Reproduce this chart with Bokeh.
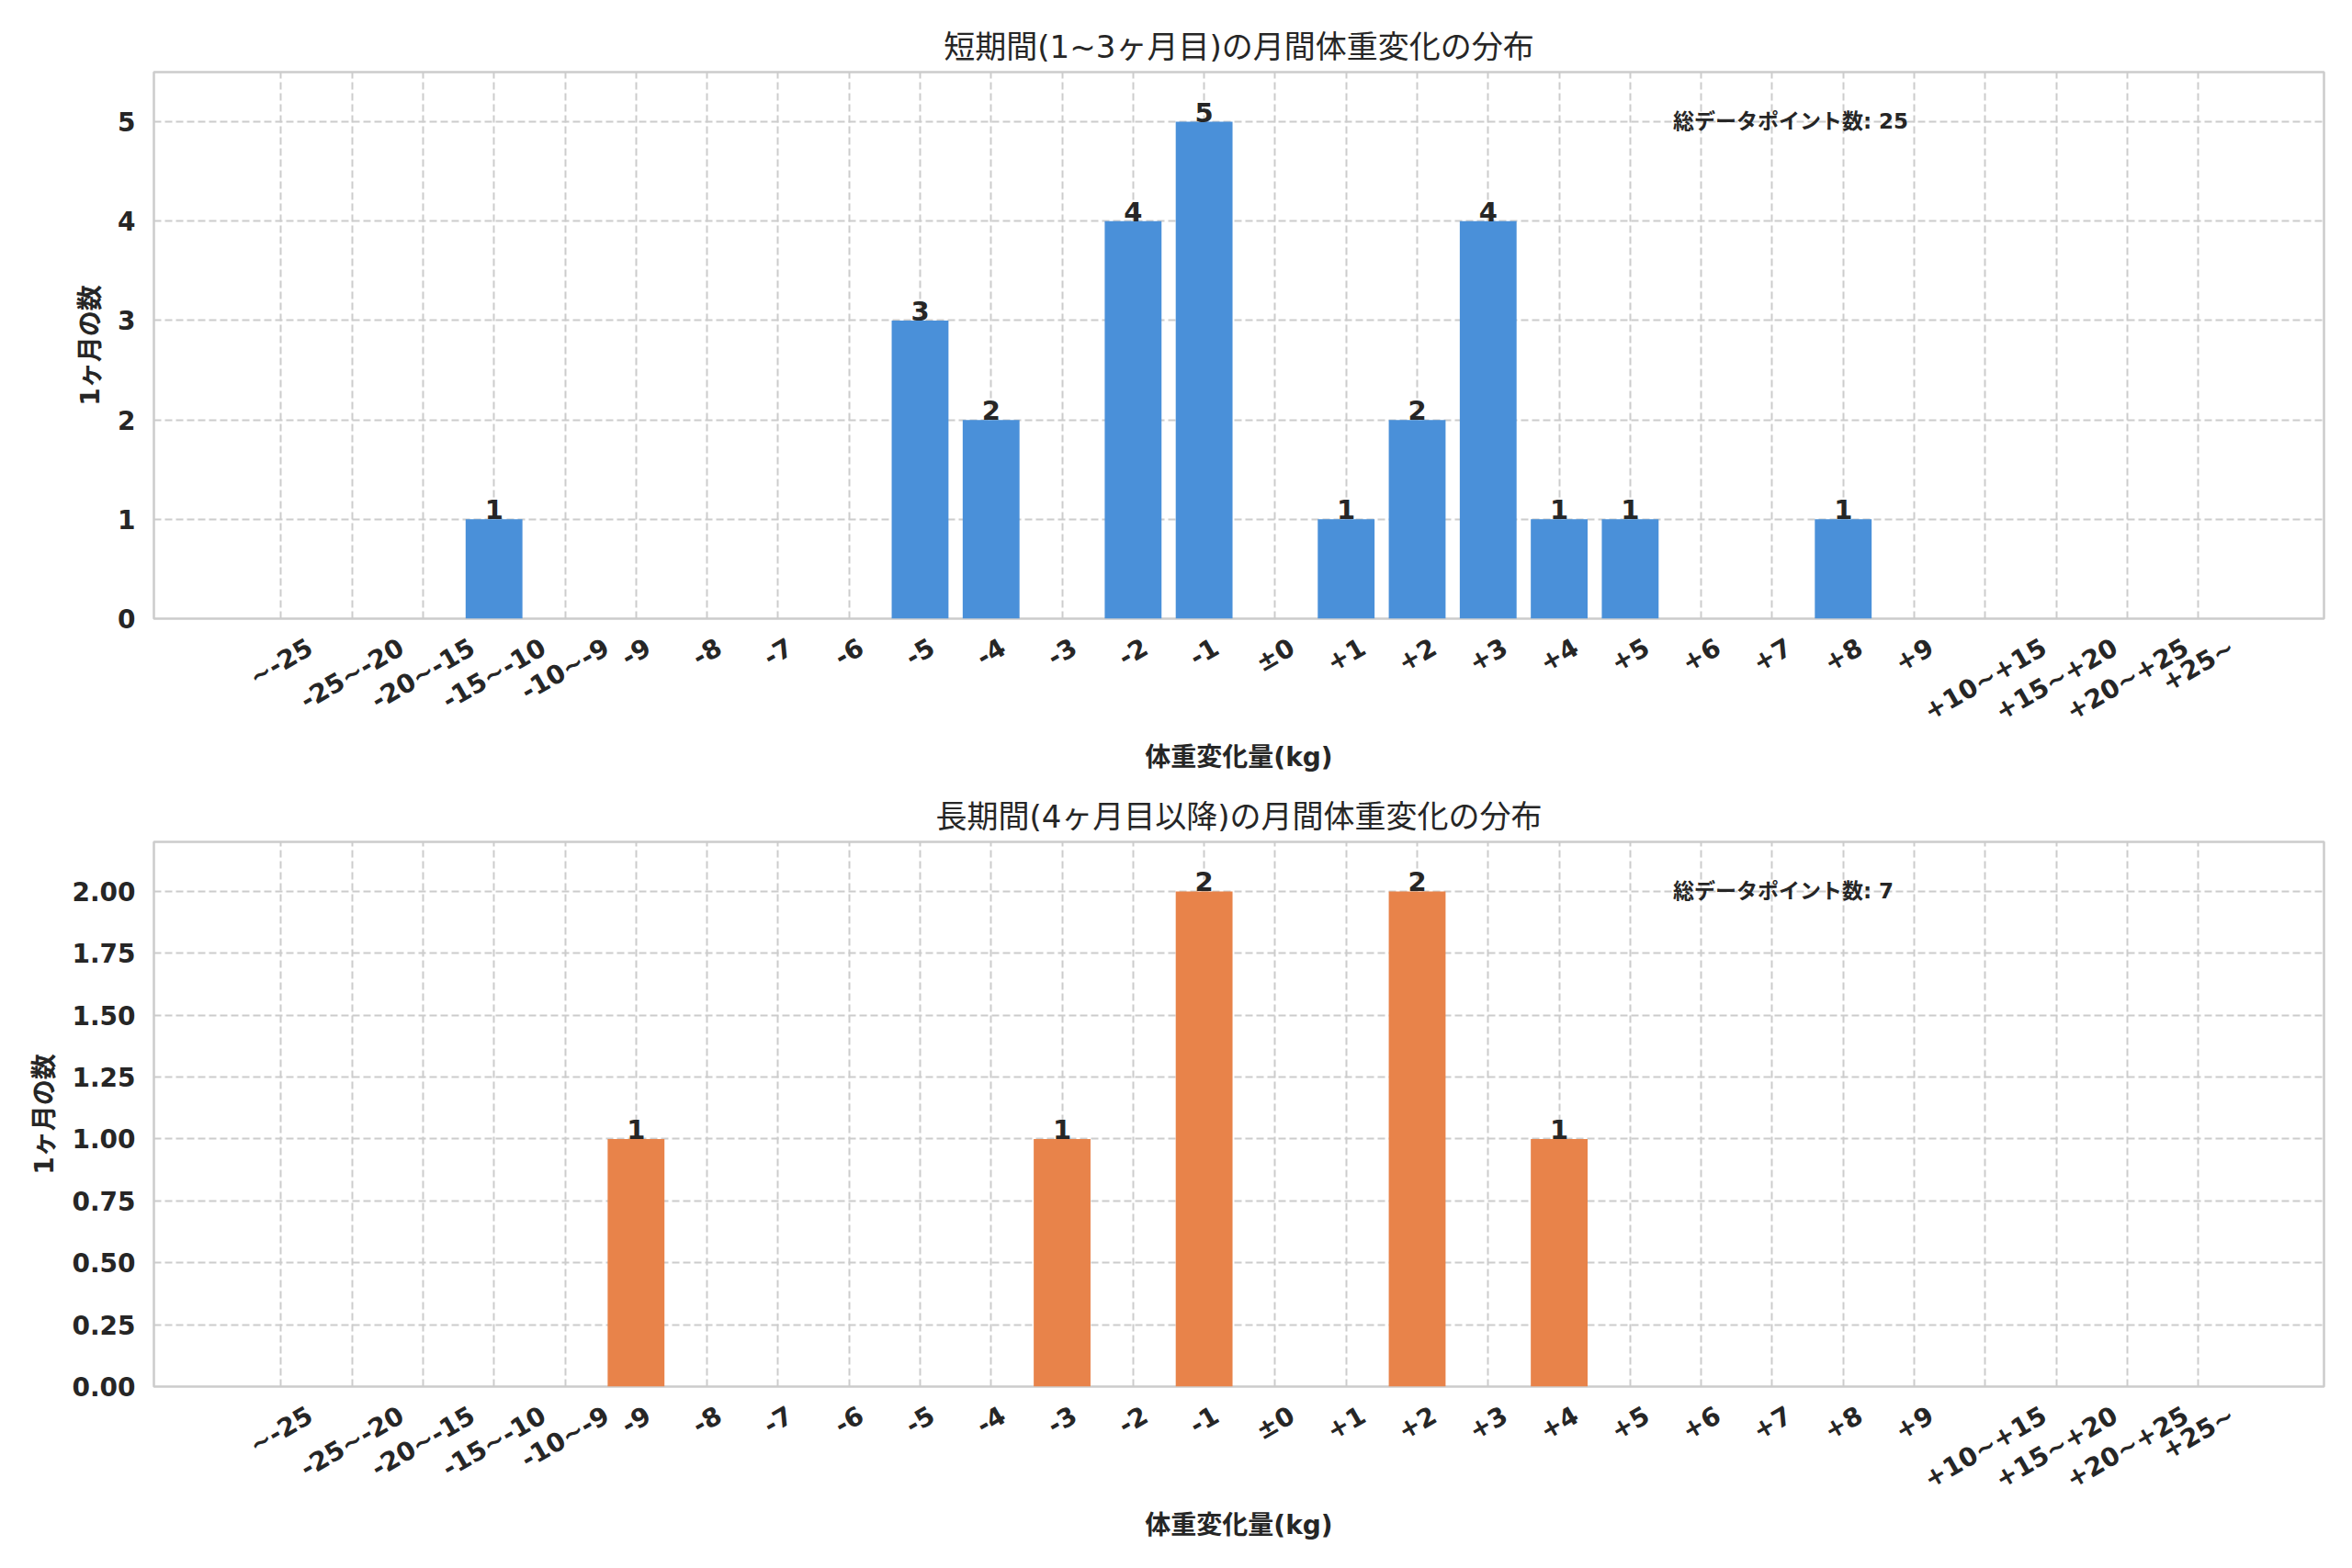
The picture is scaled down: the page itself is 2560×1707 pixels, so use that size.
import math
from bokeh.plotting import figure
from bokeh.models import ColumnDataSource, FixedTicker, SingleIntervalTicker, Range1d, Label, NumeralTickFormatter
from bokeh.layouts import column
from bokeh.embed import file_html
from bokeh.resources import INLINE
from bokeh.core.properties import value

categories = ["~-25", "-25~-20", "-20~-15", "-15~-10", "-10~-9", "-9", "-8", "-7", "-6",
              "-5", "-4", "-3", "-2", "-1", "±0", "+1", "+2", "+3", "+4", "+5", "+6",
              "+7", "+8", "+9", "+10~+15", "+15~+20", "+20~+25", "+25~"]
short_counts = [0, 0, 0, 1, 0, 0, 0, 0, 0, 3, 2, 0, 4, 5, 0, 1, 2, 4, 1, 1, 0, 0, 1, 0, 0, 0, 0, 0]
long_counts = [0, 0, 0, 0, 0, 1, 0, 0, 0, 0, 0, 1, 0, 2, 0, 0, 2, 0, 1, 0, 0, 0, 0, 0, 0, 0, 0, 0]

title_short = "短期間(1~3ヶ月目)の月間体重変化の分布"
title_long = "長期間(4ヶ月目以降)の月間体重変化の分布"
x_label = "体重変化量(kg)"
y_label = "1ヶ月の数"
total_label = "総データポイント数"

FONT = "'DejaVu Sans', 'Noto Sans CJK JP', sans-serif"
TXT = "#262626"
GRID = "#cccccc"
TICK_PX = 28
FRAME_W = 2362
X0, X1 = -1.79, 28.77
# approximate advance widths (em) of DejaVu Sans Bold, used to centre rotated tick labels
CHAR_EM = {"-": 0.415, "+": 0.838, "~": 0.838, "±": 0.838}


def label_shift(s):
    w = sum(CHAR_EM.get(ch, 0.696) for ch in s) * TICK_PX
    px_per_unit = FRAME_W / (X1 - X0)
    return (w / 2.0) * math.cos(math.pi / 6) / px_per_unit


def panel(counts, color, title, interval, fmt, top_border, frame_h, bottom_border):
    ymax = max(counts) * 1.1
    p = figure(output_backend="svg", toolbar_location=None,
               frame_width=FRAME_W, frame_height=frame_h,
               min_border_left=167, min_border_right=15,
               min_border_top=top_border, min_border_bottom=bottom_border,
               x_range=Range1d(X0, X1), y_range=Range1d(0, ymax),
               title=title)
    p.title.text_font = FONT
    p.title.text_font_size = "34px"
    p.title.text_font_style = "normal"
    p.title.text_color = TXT
    p.title.align = "center"
    p.title.standoff = 15

    xs = list(range(len(categories)))
    src = ColumnDataSource(dict(x=xs, top=counts))
    p.vbar(x="x", top="top", width=0.8, bottom=0, source=src,
           fill_color=color, line_color=None)

    lx = [i for i, c in enumerate(counts) if c > 0]
    ly = [counts[i] for i in lx]
    lt = [str(counts[i]) for i in lx]
    lsrc = ColumnDataSource(dict(x=lx, y=ly, t=lt))
    p.text(x="x", y="y", text="t", source=lsrc, text_align="center",
           text_baseline="bottom", y_offset=0, text_font=value(FONT),
           text_font_size="29px", text_font_style="bold", text_color=TXT)

    shifted = [i + label_shift(c) for i, c in enumerate(categories)]
    p.xaxis.ticker = FixedTicker(ticks=shifted)
    p.xaxis.major_label_overrides = {t: c for t, c in zip(shifted, categories)}
    p.xaxis.major_label_orientation = math.pi / 6
    p.yaxis.ticker = SingleIntervalTicker(interval=interval)
    if fmt:
        p.yaxis.formatter = NumeralTickFormatter(format=fmt)

    for ax in (p.xaxis, p.yaxis):
        ax.axis_line_color = None
        ax.major_tick_out = 0
        ax.major_tick_in = 0
        ax.minor_tick_out = 0
        ax.minor_tick_in = 0
        ax.major_label_text_font = FONT
        ax.major_label_text_font_size = f"{TICK_PX}px"
        ax.major_label_text_font_style = "bold"
        ax.major_label_text_color = TXT
        ax.axis_label_text_font = FONT
        ax.axis_label_text_font_size = "28px"
        ax.axis_label_text_font_style = "bold"
        ax.axis_label_text_color = TXT
    p.xaxis.major_label_standoff = 29
    p.yaxis.major_label_standoff = 20
    p.xaxis.axis_label = x_label
    p.yaxis.axis_label = y_label
    p.xaxis.axis_label_standoff = 0
    p.yaxis.axis_label_standoff = 10

    p.xgrid.ticker = FixedTicker(ticks=xs)
    for g in (p.xgrid, p.ygrid):
        g.grid_line_color = GRID
        g.grid_line_dash = "8 4"
        g.grid_line_width = 2
    p.outline_line_color = GRID
    p.outline_line_width = 2.5
    p.background_fill_color = "white"
    p.border_fill_color = "white"

    p.add_layout(Label(x=X0 + 0.7 * (X1 - X0), y=ymax * 0.91,
                       text=f"{total_label}: {sum(counts)}",
                       text_font=FONT, text_font_size="23px", text_font_style="bold",
                       text_color=TXT, text_align="left", text_baseline="middle"))
    return p


p1 = panel(short_counts, "#4a90d9", title_short, 1, None, 78, 595, 172)
p2 = panel(long_counts, "#e8834a", title_long, 0.25, "0.00", 71, 593, 182)

layout = column(p1, p2, spacing=0)
open("out.html", "w").write(file_html(layout, INLINE))
